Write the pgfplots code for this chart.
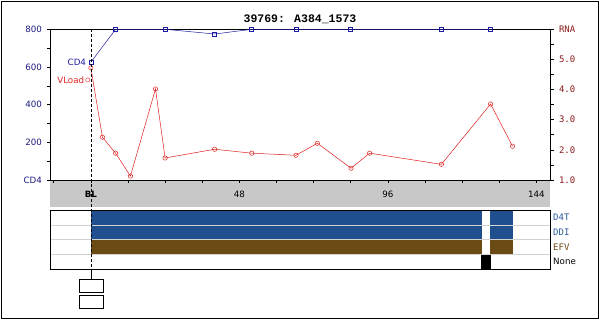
\documentclass[border=0pt]{standalone}
\usepackage{fontspec}
\setmainfont{DejaVu Sans}
\newfontfamily\monofont{DejaVu Sans Mono}
\newfontfamily\titlefont{Liberation Mono}
\usepackage{pgfplots}
\pgfplotsset{compat=1.18}
\definecolor{cdblue}{HTML}{1C1CA0}
\definecolor{navyl}{HTML}{1A1A80}
\definecolor{vlred}{HTML}{E0201E}
\definecolor{rnared}{HTML}{8B1A1A}
\definecolor{drugblue}{HTML}{1F4F8F}
\definecolor{drugbrown}{HTML}{6B4A14}
\definecolor{lblblue}{HTML}{2A5A9A}
\definecolor{bandgray}{HTML}{C8C8C8}
\begin{document}
\begin{tikzpicture}
\useasboundingbox (0pt,0pt) rectangle (600pt,319pt);
\draw[line width=0.8pt] (1pt,1pt) rectangle (598pt,318pt);
\fill[bandgray] (50pt,112pt) rectangle (550pt,139pt);
\node[font=\titlefont\bfseries\fontsize{11.5}{12}\selectfont] at (300pt,299.5pt) {39769: A384\_1573};
% ---- main axis (CD4) ----
\begin{axis}[
  at={(50pt,139pt)}, anchor=south west, width=500pt, height=150.7pt, scale only axis,
  xmin=-13.2, xmax=148.4, ymin=0, ymax=800,
  xtick={-12,0,...,144}, xticklabels={,\textbf{BL},,,,48,,,,96,,,,144},
  xtick pos=bottom, ytick pos=left,
  ytick={0,100,...,800}, yticklabels={CD4,,200,,400,,600,,800},
  tick align=outside, major tick length=3pt,
  tick style={black, line width=0.6pt},
  axis line style={line width=0.8pt},
  yticklabel style={font=\fontsize{8.7}{9}\selectfont, text=navyl, xshift=-1.5pt},
  xticklabel style={font=\fontsize{8.7}{9}\selectfont, yshift=-4.5pt},
  clip=false,
]
\addplot[cdblue, line width=0.5pt, mark=square, mark size=2pt] coordinates {
(0,625) (8,800) (24,800) (40,775) (52,800) (66.3,800) (84,800) (113.3,800) (129.2,800)};
\coordinate (blTop) at (axis cs:0,800);
\node[anchor=east, text=cdblue, font=\fontsize{8.7}{9}\selectfont, inner sep=0pt] at (axis cs:-1.5,626) {CD4};
\end{axis}
% ---- right axis (RNA) ----
\begin{axis}[
  at={(50pt,139pt)}, anchor=south west, width=500pt, height=150.7pt, scale only axis,
  xmin=-13.2, xmax=148.4, ymin=1, ymax=6,
  axis x line=none, axis y line*=right,
  ytick={1,1.5,...,6}, yticklabels={1.0,,2.0,,3.0,,4.0,,5.0,,RNA},
  tick align=outside, major tick length=4pt,
  tick style={black, line width=0.6pt},
  axis line style={line width=0.8pt},
  yticklabel style={font=\monofont\fontsize{9}{10}\selectfont, text=rnared, xshift=1.5pt},
  clip=false,
]
\addplot[vlred, line width=0.5pt, mark=o, mark size=2.2pt] coordinates {
(0,4.72) (3.75,2.42) (8,1.89) (12.8,1.13) (20.9,4.02) (24,1.73) (40,2.02) (52,1.89)
(66.3,1.82) (73.2,2.22) (84.1,1.39) (90.1,1.89) (113.3,1.52) (129.2,3.52) (136.3,2.12)};
\addplot[only marks, vlred, mark=o, mark size=2.2pt] coordinates {(-1.0,4.32)};
\node[anchor=east, text=vlred, font=\fontsize{8.7}{9}\selectfont, inner sep=0pt] at (axis cs:-2.1,4.32) {VLoad};
\end{axis}
% ---- drug panel ----
\begin{axis}[
  at={(50pt,49.7pt)}, anchor=south west, width=500pt, height=59.3pt, scale only axis,
  xmin=-13.2, xmax=148.4, ymin=0, ymax=4,
  xtick=\empty, ytick={1,2,3}, yticklabels={},
  major tick length=0pt,
  ymajorgrids, grid style={color=gray!35, line width=0.6pt},
  axis on top, axis line style={line width=0.8pt},
  clip=false,
]
\addplot[fill=drugblue, draw=none] coordinates {(0,3) (126.5,3) (126.5,4) (0,4)};
\addplot[fill=drugblue, draw=none] coordinates {(129,3) (136.3,3) (136.3,4) (129,4)};
\addplot[fill=drugblue, draw=none] coordinates {(0,2) (126.5,2) (126.5,3) (0,3)};
\addplot[fill=drugblue, draw=none] coordinates {(129,2) (136.3,2) (136.3,3) (129,3)};
\addplot[fill=drugbrown, draw=none] coordinates {(0,1) (126.5,1) (126.5,2) (0,2)};
\addplot[fill=drugbrown, draw=none] coordinates {(129,1) (136.3,1) (136.3,2) (129,2)};
\addplot[fill=black, draw=none] coordinates {(126.1,-0.05) (129.2,-0.05) (129.2,1) (126.1,1)};
\node[anchor=west, text=lblblue, font=\monofont\fontsize{9}{10}\selectfont, inner sep=0pt, xshift=3pt] at (rel axis cs:1,0.875) {D4T};
\node[anchor=west, text=lblblue, font=\monofont\fontsize{9}{10}\selectfont, inner sep=0pt, xshift=3pt] at (rel axis cs:1,0.625) {DDI};
\node[anchor=west, text=drugbrown, font=\monofont\fontsize{9}{10}\selectfont, inner sep=0pt, xshift=3pt] at (rel axis cs:1,0.375) {EFV};
\node[anchor=west, text=black, font=\fontsize{8.7}{9}\selectfont, inner sep=0pt, xshift=3pt] at (rel axis cs:1,0.125) {None};
\end{axis}
\draw[line width=1.6pt] (50pt,49.7pt) -- (550pt,49.7pt);
\coordinate (pb) at (0pt,49.7pt);
\coordinate (pc) at (0pt,39.7pt);
\coordinate (q1) at (0pt,26.3pt);
\coordinate (q2) at (0pt,39.7pt);
\coordinate (q3) at (0pt,10.7pt);
\coordinate (q4) at (0pt,23.7pt);
\draw[line width=0.6pt, dash pattern=on 3pt off 2pt] (blTop) -- (blTop |- pb);
\draw[line width=0.6pt] (blTop |- pb) -- (blTop |- pc);
\draw[line width=0.6pt] ([xshift=-12pt]blTop |- q1) rectangle ([xshift=12pt]blTop |- q2);
\draw[line width=0.6pt] ([xshift=-12pt]blTop |- q3) rectangle ([xshift=12pt]blTop |- q4);
\end{tikzpicture}
\end{document}
